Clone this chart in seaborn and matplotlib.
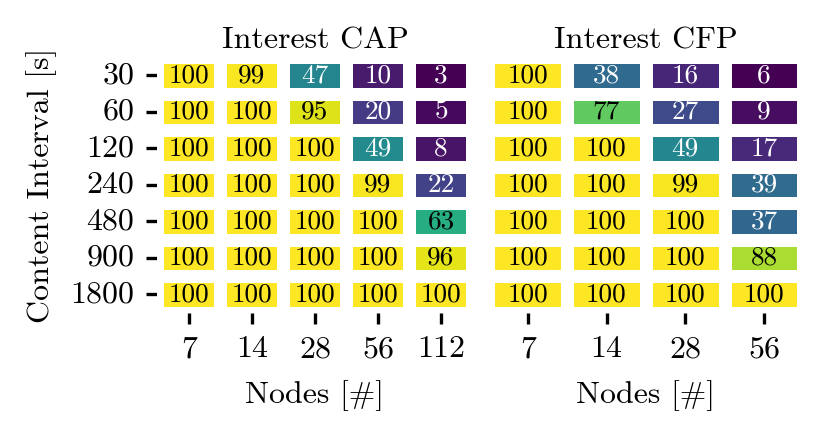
import numpy as np
import pandas as pd
import matplotlib
matplotlib.use("Agg")
import matplotlib.pyplot as plt
import seaborn as sns

# 데이터
intervals = [30, 60, 120, 240, 480, 900, 1800]
nodes_cap = [7, 14, 28, 56, 112]
nodes_cfp = [7, 14, 28, 56]

cap_values = [
    [100, 99, 47, 10, 3],
    [100, 100, 95, 20, 5],
    [100, 100, 100, 49, 8],
    [100, 100, 100, 99, 22],
    [100, 100, 100, 100, 63],
    [100, 100, 100, 100, 96],
    [100, 100, 100, 100, 100],
]
cfp_values = [
    [100, 38, 16, 6],
    [100, 77, 27, 9],
    [100, 100, 49, 17],
    [100, 100, 99, 39],
    [100, 100, 100, 37],
    [100, 100, 100, 88],
    [100, 100, 100, 100],
]

sns.set_style("ticks")
plt.rcParams['font.family'] = ['cmr10', 'DejaVu Serif']
plt.rcParams['axes.unicode_minus'] = False
plt.rcParams['mathtext.fontset'] = 'cm'
plt.rcParams['text.color'] = 'black'
plt.rcParams['axes.labelcolor'] = 'black'
plt.rcParams['xtick.color'] = 'black'
plt.rcParams['ytick.color'] = 'black'

W, H, DPI = 829, 433, 200
fig = plt.figure(figsize=(W / DPI, H / DPI), dpi=DPI)

def px_axes(x0, x1, y0, y1):
    return fig.add_axes([x0 / W, 1 - y1 / H, (x1 - x0) / W, (y1 - y0) / H])

ax1 = px_axes(157.5, 472.5, 57.2, 312.7)
ax2 = px_axes(488.5, 803.3, 57.2, 312.7)

df_cap = pd.DataFrame(cap_values, index=intervals, columns=nodes_cap)
df_cfp = pd.DataFrame(cfp_values, index=intervals, columns=nodes_cfp)

FS = 11.5
common = dict(cmap="viridis", annot=True, fmt="d", cbar=False,
              linewidths=4, linecolor="white", annot_kws={"fontsize": 9.8})

sns.heatmap(df_cap, ax=ax1, **common)
sns.heatmap(df_cfp, ax=ax2, yticklabels=False, **common)

# 글자색: 값 기준으로 직접 지정
for ax in (ax1, ax2):
    for t in ax.texts:
        t.set_color("black" if int(t.get_text()) >= 50 else "white")

for ax, title in [(ax1, "Interest CAP"), (ax2, "Interest CFP")]:
    ax.set_title(title, fontsize=FS, pad=3)
    ax.set_xlabel("Nodes [#]", fontsize=FS, labelpad=6)
    ax.tick_params(axis="both", length=3.8, width=1.2, pad=4.5, labelsize=FS)
    ax.tick_params(axis="x", rotation=0)

ax1.set_ylabel("Content Interval [s]", fontsize=FS, labelpad=5)
ax1.tick_params(axis="y", rotation=0)
ax2.set_ylabel("")
ax2.tick_params(axis="y", left=False)

fig.savefig("out.png", dpi=DPI)
